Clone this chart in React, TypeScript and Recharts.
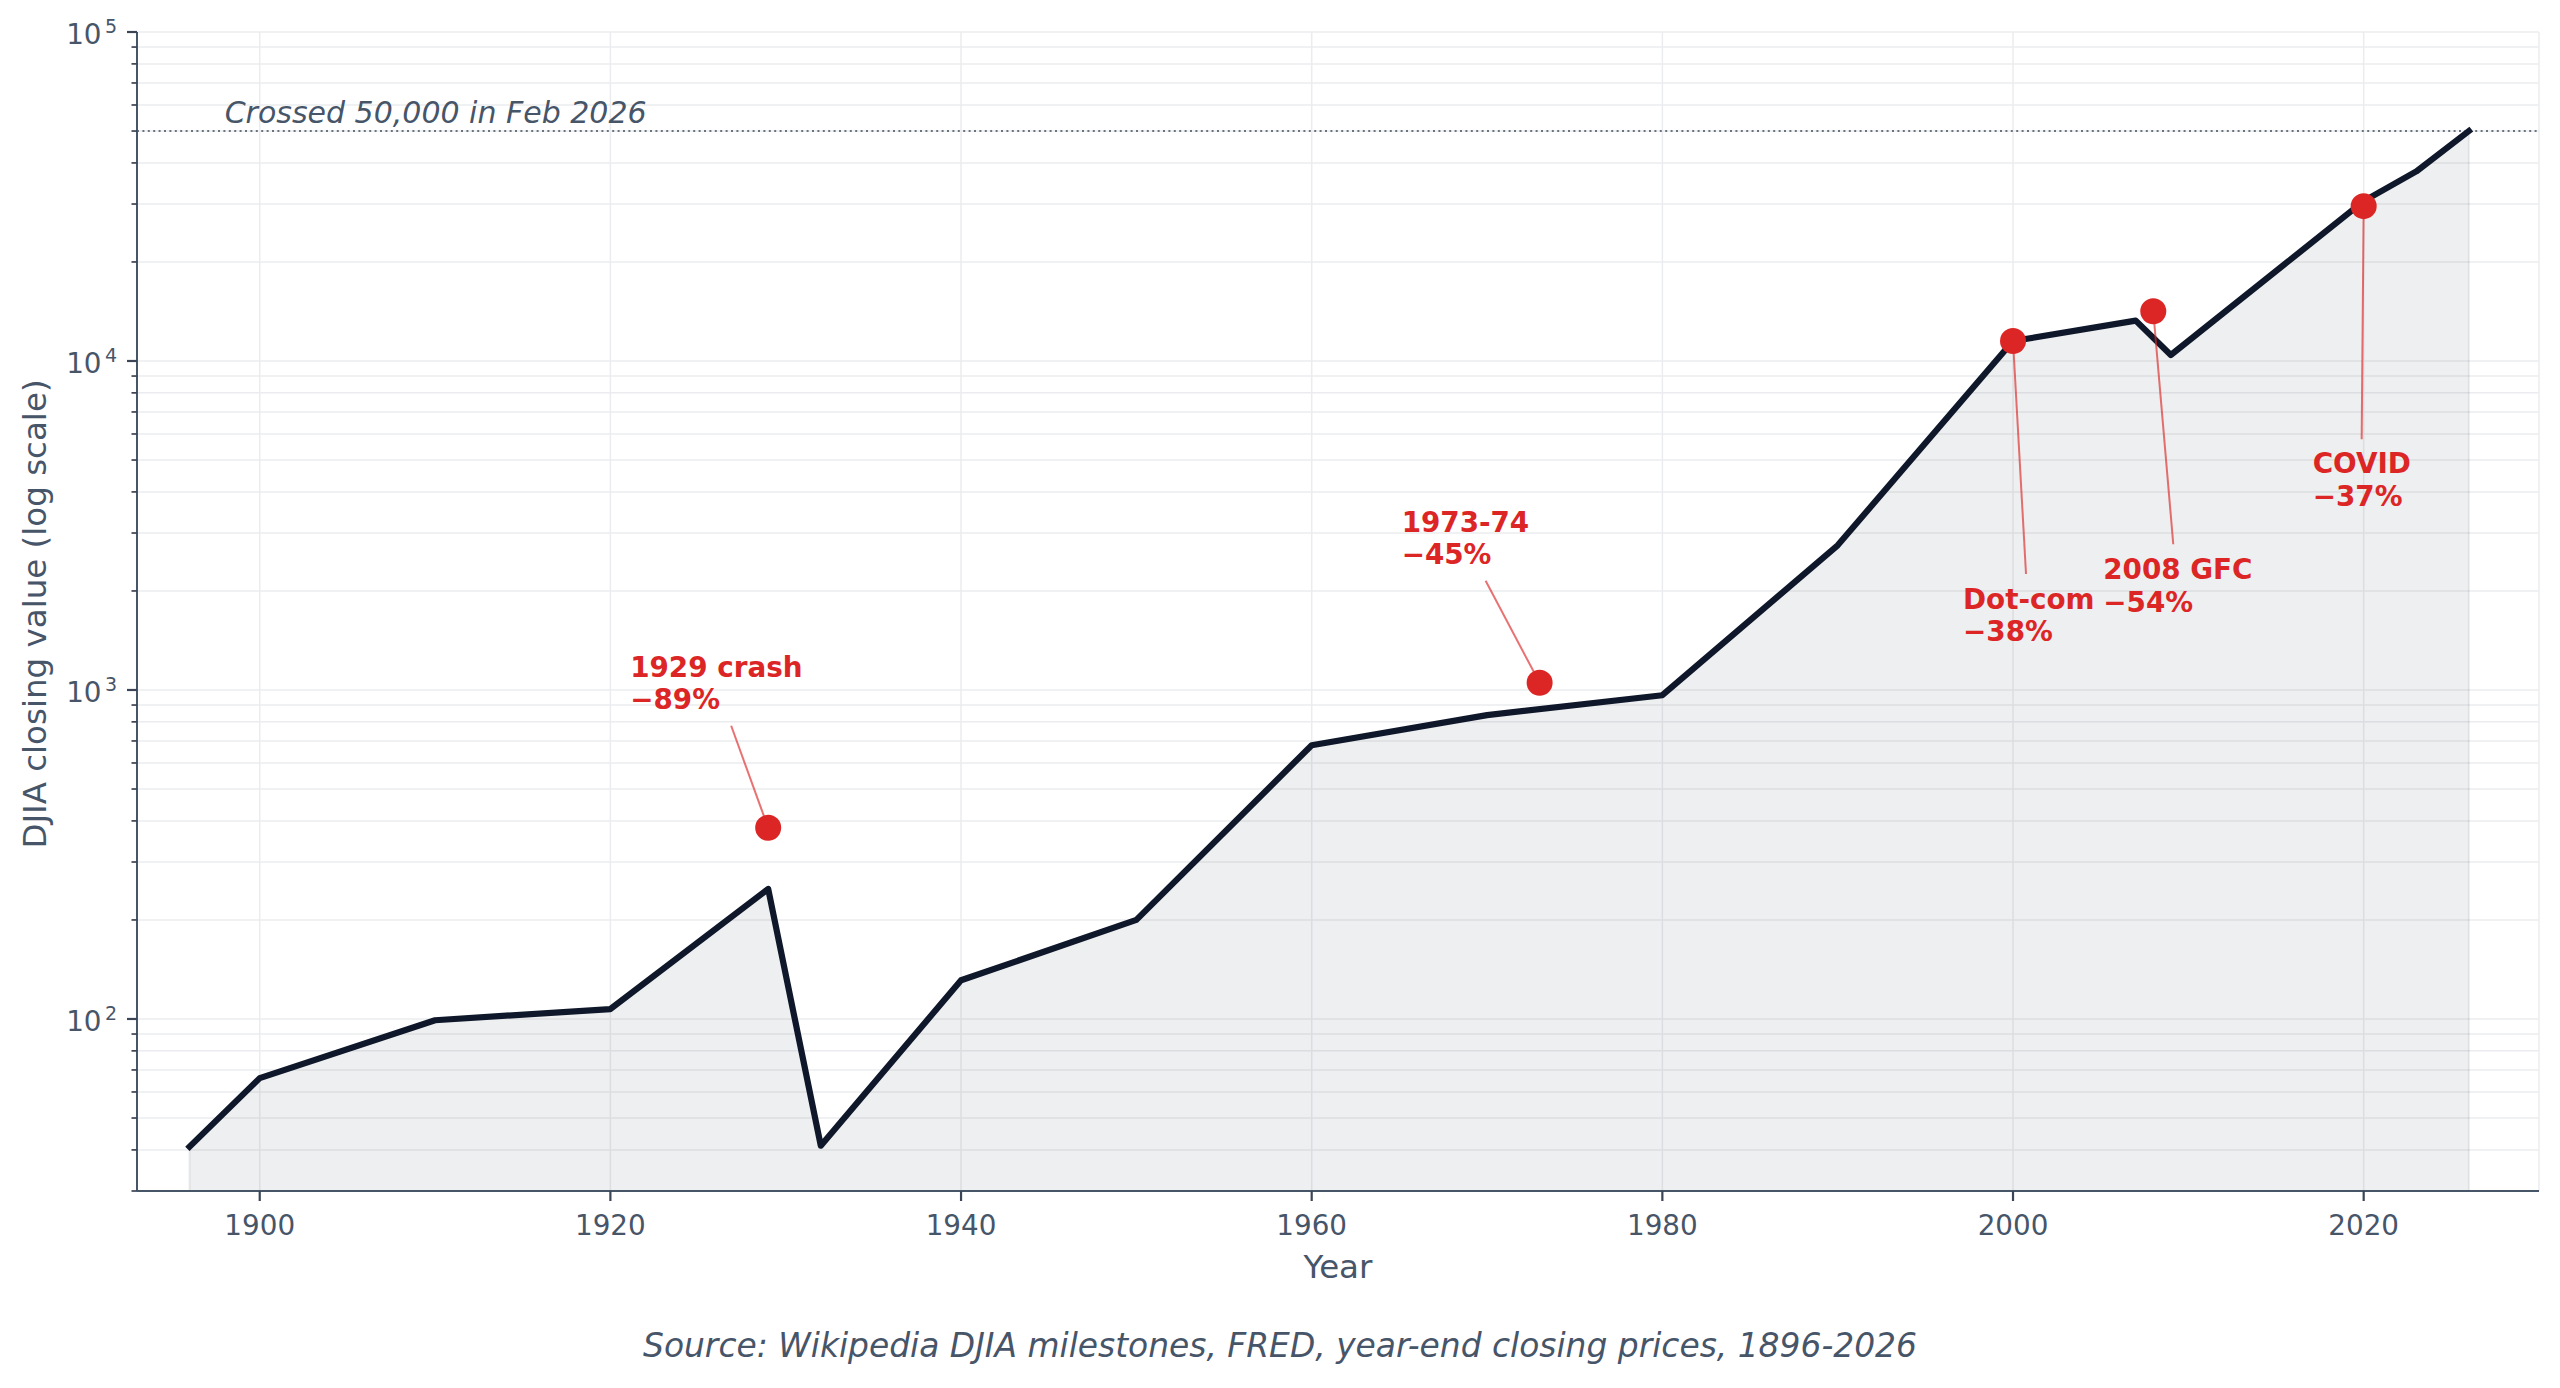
import {
  ComposedChart,
  Area,
  Line,
  XAxis,
  YAxis,
  CartesianGrid,
  ReferenceLine,
  ReferenceDot,
} from "recharts";

// Year-end closes of the Dow Jones Industrial Average
const YEARS = [1896, 1900, 1910, 1920, 1929, 1932, 1940, 1950, 1960, 1970, 1980, 1990, 2000, 2007, 2009, 2020, 2023, 2026];
const CLOSES = [40.9, 66.1, 99.1, 107.2, 248.5, 41.2, 131.1, 200.1, 679.4, 838.9, 964.0, 2753.2, 11497, 13265, 10428, 30606, 37690, 50000];

// Pre-crash peaks and their drawdowns
const EVENT_YEARS = [1929, 1973, 2000, 2008, 2020];
const EVENT_PEAKS = [381.2, 1051.7, 11500, 14165, 29551];
const EVENT_NAMES = ["1929 crash", "1973-74", "Dot-com", "2008 GFC", "COVID"];
const EVENT_DROPS = [-89, -45, -38, -54, -37];

const MILESTONE = 50000;
const MILESTONE_NOTE = "Crossed 50,000 in Feb 2026";
const MILESTONE_NOTE_YEAR = 1898;

const X_DOMAIN = [1893, 2030];
const X_TICKS = [1900, 1920, 1940, 1960, 1980, 2000, 2020];
const Y_DOMAIN = [30, 100000];
const Y_MAJOR = [100, 1000, 10000, 100000];

const Y_MINOR: number[] = [];
for (const base of [10, 100, 1000, 10000]) {
  for (let m = 2; m <= 9; m++) {
    const v = base * m;
    if (v >= Y_DOMAIN[0] && v < Y_DOMAIN[1]) Y_MINOR.push(v);
  }
}
const Y_TICKS = [...Y_MINOR, ...Y_MAJOR].sort((a, b) => a - b);

// label placement relative to each peak marker (px)
const EVENT_OFFSETS = [
  { tx: -138, ty: -151, lx: -37, ly: -102 },
  { tx: -138, ty: -151, lx: -54, ly: -102 },
  { tx: -50, ty: 268, lx: 13, ly: 233 },
  { tx: -50, ty: 268, lx: 20, ly: 233 },
  { tx: -51, ty: 267, lx: -2, ly: 233 },
];

const FONT = '"DejaVu Sans", Verdana, sans-serif';
const INK = "#0f172a";
const RED = "#dc2626";
const SLATE = "#475569";
const TICK = "#3b4555";
const GRID = "#ebecef";

const PLOT_LEFT = 137;

const data = YEARS.map((year, i) => ({ year, close: CLOSES[i] }));

function LogTick({ y, payload }: any) {
  const v = payload.value as number;
  const major = Y_MAJOR.includes(v);
  const len = major ? 10 : 5.5;
  return (
    <g>
      <line
        x1={PLOT_LEFT - len}
        x2={PLOT_LEFT}
        y1={y}
        y2={y}
        stroke={TICK}
        strokeWidth={major ? 2.2 : 1.7}
      />
      {major && (
        <text
          x={PLOT_LEFT - 20}
          y={y + 11.7}
          textAnchor="end"
          fill={SLATE}
          fontSize={27.8}
          fontFamily={FONT}
        >
          10
          <tspan dx={3.4} dy={-11} fontSize={19}>
            {Math.round(Math.log10(v))}
          </tspan>
        </text>
      )}
    </g>
  );
}

function EventMarker({ cx, cy, name, drop, off }: any) {
  const tx = cx + off.tx;
  return (
    <g>
      <line
        x1={cx + off.lx}
        y1={cy + off.ly}
        x2={cx}
        y2={cy}
        stroke={RED}
        strokeOpacity={0.65}
        strokeWidth={2}
      />
      <text fill={RED} fontWeight="bold" fontSize={27.8} fontFamily={FONT}>
        <tspan x={tx} y={cy + off.ty}>
          {name}
        </tspan>
        <tspan x={tx} dy={32.4}>
          {"\u2212" + Math.abs(drop) + "%"}
        </tspan>
      </text>
      <circle cx={cx} cy={cy} r={13} fill={RED} />
    </g>
  );
}

export default function App() {
  return (
    <div style={{ position: "absolute", left: 0, top: 0, width: 2560, height: 1388, background: "#fff" }}>
      <ComposedChart
        width={2560}
        height={1388}
        data={data}
        margin={{ top: 32, right: 21, bottom: 137, left: 27 }}
      >
        <CartesianGrid stroke={GRID} strokeWidth={1.5} />
        <XAxis
          dataKey="year"
          type="number"
          domain={X_DOMAIN}
          ticks={X_TICKS}
          allowDataOverflow
          interval={0}
          height={60}
          axisLine={{ stroke: SLATE, strokeWidth: 2 }}
          tickLine={{ stroke: TICK, strokeWidth: 2.2 }}
          tickSize={10}
          tickMargin={14}
          tick={{ fill: SLATE, fontSize: 27.8, fontFamily: FONT }}
        />
        <YAxis
          type="number"
          scale="log"
          domain={Y_DOMAIN}
          ticks={Y_TICKS}
          allowDataOverflow
          interval={0}
          width={110}
          axisLine={{ stroke: SLATE, strokeWidth: 2 }}
          tickLine={false}
          tick={<LogTick />}
        />
        <Area
          dataKey="close"
          type="linear"
          baseValue="dataMin"
          fill={INK}
          fillOpacity={0.07}
          stroke="none"
          isAnimationActive={false}
          activeDot={false}
        />
        <ReferenceLine
          segment={[
            { x: YEARS[0], y: Y_DOMAIN[0] },
            { x: YEARS[0], y: CLOSES[0] },
          ]}
          stroke={INK}
          strokeOpacity={0.08}
          strokeWidth={2}
        />
        <ReferenceLine
          segment={[
            { x: YEARS[YEARS.length - 1], y: Y_DOMAIN[0] },
            { x: YEARS[YEARS.length - 1], y: CLOSES[CLOSES.length - 1] },
          ]}
          stroke={INK}
          strokeOpacity={0.08}
          strokeWidth={2}
        />
        <ReferenceLine
          y={MILESTONE}
          stroke="#6b7280"
          strokeWidth={2}
          strokeDasharray="2 3.4"
        />
        <Line
          dataKey="close"
          type="linear"
          stroke={INK}
          strokeWidth={6.2}
          strokeLinejoin="round"
          strokeLinecap="square"
          dot={false}
          activeDot={false}
          isAnimationActive={false}
        />
        <ReferenceDot
          x={MILESTONE_NOTE_YEAR}
          y={MILESTONE}
          r={0}
          shape={(p: any) => (
            <text
              x={p.cx}
              y={p.cy - 8}
              fill={SLATE}
              fontSize={30}
              fontStyle="italic"
              fontFamily={FONT}
            >
              {MILESTONE_NOTE}
            </text>
          )}
        />
        {EVENT_YEARS.map((yr, i) => (
          <ReferenceDot
            key={EVENT_NAMES[i]}
            x={yr}
            y={EVENT_PEAKS[i]}
            r={13}
            zIndex={1000}
            shape={(p: any) => (
              <EventMarker
                cx={p.cx}
                cy={p.cy}
                name={EVENT_NAMES[i]}
                drop={EVENT_DROPS[i]}
                off={EVENT_OFFSETS[i]}
              />
            )}
          />
        ))}
      </ComposedChart>
      <svg
        width={2560}
        height={1388}
        style={{ position: "absolute", left: 0, top: 0, pointerEvents: "none" }}
      >
        <text x={1338} y={1278} textAnchor="middle" fill={SLATE} fontSize={32.5} fontFamily={FONT}>
          Year
        </text>
        <text
          transform="translate(45.5 614) rotate(-90)"
          textAnchor="middle"
          fill={SLATE}
          fontSize={32.5}
          fontFamily={FONT}
        >
          DJIA closing value (log scale)
        </text>
        <text
          x={1280}
          y={1357}
          textAnchor="middle"
          fill={SLATE}
          fontSize={32.9}
          fontStyle="italic"
          fontFamily={FONT}
        >
          Source: Wikipedia DJIA milestones, FRED, year-end closing prices, 1896-2026
        </text>
      </svg>
    </div>
  );
}
